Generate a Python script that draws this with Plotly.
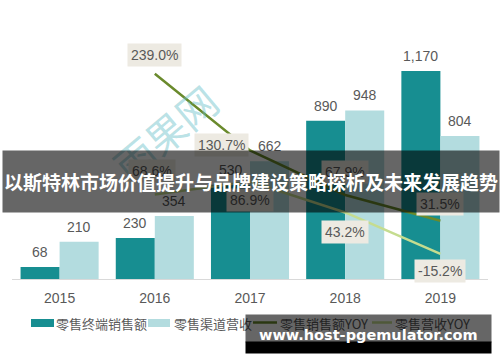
import plotly.graph_objects as go

# ---------------- data ----------------
years = ["2015", "2016", "2017", "2018", "2019"]
terminal_sales = [68, 230, 530, 890, 1170]        # 零售终端销售额
channel_revenue = [210, 354, 662, 948, 804]       # 零售渠道营收
yoy_years = ["2016", "2017", "2018", "2019"]
sales_yoy = [239.0, 130.7, 67.9, 31.5]            # 零售销售额YOY
revenue_yoy = [68.6, 86.9, 43.2, -15.2]           # 零售营收YOY

series_names = ["零售终端销售额", "零售渠道营收", "零售销售额YOY", "零售营收YOY"]
title_text = "以斯特林市场价值提升与品牌建设策略探析及未来发展趋势"
watermark_text = "www.host-pgemulator.com"
logo_text = "雨果网"

# ---------------- styles ----------------
C_DARK = "#178e91"
C_LIGHT = "#b3dcdf"
C_LINE1 = "#6a8a2c"
C_LINE2 = "#c5dc8f"
C_TEXT = "#595959"
LBL_BG = "#edeae2"
NUM_FONT = "Liberation Sans Narrow, Liberation Sans, Noto Sans CJK SC, sans-serif"
CJK_FONT = "Noto Sans CJK SC, sans-serif"

W, H = 500, 362
ML, MR, MT, MB = 12, 12, 20, 83
PW = W - ML - MR
PH = H - MT - MB


def px(x):
    return (x - ML) / PW


def py(y):
    return (H - MB - y) / PH


fig = go.Figure()
fig.add_trace(go.Bar(x=years, y=terminal_sales, name=series_names[0],
                     marker=dict(color=C_DARK, line=dict(width=0)), showlegend=False))
fig.add_trace(go.Bar(x=years, y=channel_revenue, name=series_names[1],
                     marker=dict(color=C_LIGHT, line=dict(width=0)), showlegend=False))
fig.add_trace(go.Scatter(x=yoy_years, y=sales_yoy, name=series_names[2], yaxis="y2",
                         mode="lines", line=dict(color=C_LINE1, width=2.5), showlegend=False))
fig.add_trace(go.Scatter(x=yoy_years, y=revenue_yoy, name=series_names[3], yaxis="y2",
                         mode="lines", line=dict(color=C_LINE2, width=2.5), showlegend=False))

annotations = []
# faint logo watermark (under everything else)
annotations.append(dict(x=px(98), y=py(132), xref="paper", yref="paper", text=logo_text,
                        showarrow=False, textangle=-40,
                        font=dict(family=CJK_FONT, size=40, color="rgba(100,190,198,0.45)")))

# bar value labels
for vals, xs in ((terminal_sales, -19.5), (channel_revenue, 19.5)):
    for yr, v in zip(years, vals):
        annotations.append(dict(x=years.index(yr), y=v, xref="x", yref="y", text=f"{v:,}",
                                showarrow=False, xshift=xs, yshift=15, yanchor="middle",
                                font=dict(family=NUM_FONT, size=14, color=C_TEXT)))

# line value labels (offsets are placement only)
offs1 = [(0, 19), (-29, 5), (0, 23), (0, 17)]
offs2 = [(-3, 23), (0, -18), (0, -20), (0, -17)]
for vals, offs in ((sales_yoy, offs1), (revenue_yoy, offs2)):
    for yr, v, (dx, dy) in zip(yoy_years, vals, offs):
        annotations.append(dict(x=years.index(yr), y=v, xref="x", yref="y2", text=f"{v:.1f}%",
                                showarrow=False, xshift=dx, yshift=dy, yanchor="middle",
                                bgcolor=LBL_BG, borderpad=3,
                                font=dict(family=NUM_FONT, size=14, color=C_TEXT)))

# custom legend
shapes = []
shapes.append(dict(type="rect", xref="paper", yref="paper", x0=px(31), x1=px(54),
                   y0=py(327), y1=py(319), fillcolor=C_DARK, line=dict(width=0)))
shapes.append(dict(type="rect", xref="paper", yref="paper", x0=px(148), x1=px(170),
                   y0=py(327), y1=py(319), fillcolor=C_LIGHT, line=dict(width=0)))
shapes.append(dict(type="line", xref="paper", yref="paper", x0=px(253), x1=px(277),
                   y0=py(322.5), y1=py(322.5), line=dict(color=C_LINE1, width=2.5)))
shapes.append(dict(type="line", xref="paper", yref="paper", x0=px(372), x1=px(392),
                   y0=py(322.5), y1=py(322.5), line=dict(color=C_LINE2, width=2.5)))
for name, lx in zip(series_names, [54, 172, 278, 393]):
    annotations.append(dict(x=px(lx), y=py(323), xref="paper", yref="paper", text=name,
                            showarrow=False, xanchor="left", yanchor="middle",
                            font=dict(family=CJK_FONT, size=13, color=C_TEXT)))

# banner overlay with title
annotations.append(dict(x=px(250.5), y=py(181.5), xref="paper", yref="paper",
                        text="<b>" + title_text + "</b>", showarrow=False,
                        xanchor="center", yanchor="middle", width=496, height=61,
                        bgcolor="rgba(0,0,0,0.6)", borderpad=0,
                        font=dict(family=CJK_FONT, size=19, color="white")))

# site watermark
annotations.append(dict(x=px(368.5), y=py(328.5), xref="paper", yref="paper", text=" ",
                        showarrow=False, xanchor="center", yanchor="middle",
                        width=245, height=27, bgcolor="rgba(0,0,0,0.6)", borderpad=0))
annotations.append(dict(x=px(368.5), y=py(347.5), xref="paper", yref="paper", text=" ",
                        showarrow=False, xanchor="center", yanchor="middle",
                        width=245, height=11, bgcolor="black", borderpad=0))
annotations.append(dict(x=px(368), y=py(335), xref="paper", yref="paper",
                        text="<b>" + watermark_text + "</b>", showarrow=False,
                        xanchor="center", yanchor="middle",
                        font=dict(family="DejaVu Sans, sans-serif", size=14.5, color="white")))

fig.update_layout(
    width=W, height=H,
    margin=dict(l=ML, r=MR, t=MT, b=MB, pad=0),
    paper_bgcolor="white", plot_bgcolor="white",
    barmode="group", bargap=0.18, bargroupgap=0,
    showlegend=False,
    xaxis=dict(type="category", range=[-0.5, 4.5], autorange=False, showgrid=False,
               showline=True, linecolor="#d9d9d9",
               linewidth=1, ticks="", ticklabelstandoff=6,
               tickfont=dict(family=NUM_FONT, size=14, color=C_TEXT)),
    yaxis=dict(range=[0, 1457], autorange=False, showgrid=False, zeroline=False,
               showticklabels=False, showline=False),
    yaxis2=dict(range=[-50.8, 315], autorange=False, overlaying="y", side="right",
                showgrid=False, zeroline=False, showticklabels=False, showline=False),
    annotations=annotations,
    shapes=shapes,
)

fig.write_html("out.html")
